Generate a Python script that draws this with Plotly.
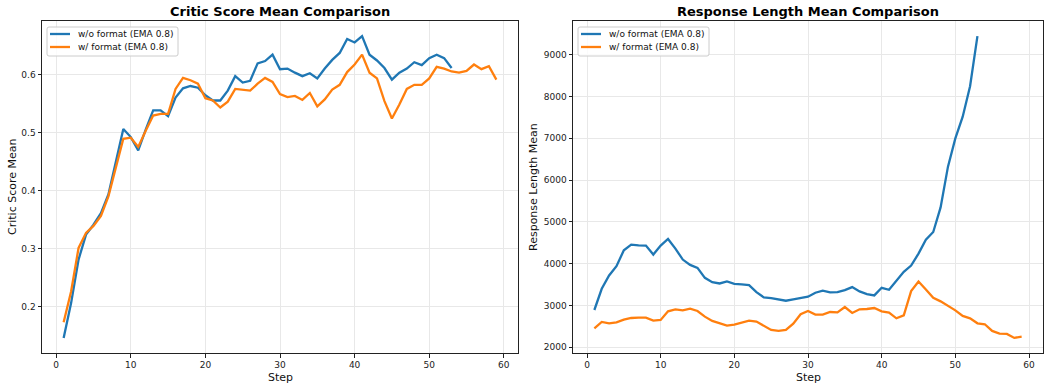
import plotly.graph_objects as go

steps_wo = list(range(1, 54))
steps_w = list(range(1, 60))

critic_wo = [0.146, 0.206, 0.281, 0.324, 0.341, 0.361, 0.393, 0.448, 0.506, 0.492,
             0.469, 0.505, 0.538, 0.538, 0.528, 0.560, 0.576, 0.580, 0.577, 0.564,
             0.555, 0.555, 0.572, 0.597, 0.586, 0.589, 0.619, 0.623, 0.634, 0.609,
             0.610, 0.603, 0.597, 0.602, 0.593, 0.610, 0.625, 0.637, 0.661, 0.655,
             0.666, 0.634, 0.624, 0.611, 0.591, 0.603, 0.610, 0.621, 0.616, 0.628,
             0.634, 0.628, 0.611]
critic_w = [0.173, 0.226, 0.301, 0.327, 0.339, 0.356, 0.390, 0.439, 0.489, 0.491,
            0.475, 0.503, 0.529, 0.532, 0.532, 0.575, 0.594, 0.590, 0.584, 0.559,
            0.555, 0.543, 0.553, 0.575, 0.574, 0.572, 0.584, 0.594, 0.587, 0.566,
            0.561, 0.563, 0.556, 0.568, 0.545, 0.557, 0.574, 0.582, 0.604, 0.617,
            0.634, 0.603, 0.593, 0.554, 0.524, 0.548, 0.575, 0.582, 0.582, 0.593,
            0.613, 0.610, 0.605, 0.603, 0.606, 0.617, 0.609, 0.614, 0.591]

length_wo = [2889, 3397, 3715, 3937, 4318, 4453, 4437, 4430, 4215, 4430,
             4588, 4358, 4096, 3969, 3897, 3659, 3556, 3524, 3572, 3516,
             3500, 3484, 3318, 3191, 3175, 3143, 3111, 3143, 3175, 3207,
             3302, 3350, 3310, 3318, 3365, 3437, 3334, 3270, 3238, 3421,
             3373, 3596, 3802, 3953, 4239, 4573, 4755, 5343, 6320, 6995,
             7514, 8244, 9444]
length_w = [2452, 2603, 2571, 2595, 2658, 2698, 2706, 2706, 2635, 2651,
            2857, 2905, 2881, 2921, 2865, 2730, 2627, 2571, 2516, 2539,
            2579, 2635, 2611, 2516, 2412, 2388, 2412, 2563, 2786, 2865,
            2778, 2778, 2841, 2833, 2960, 2817, 2905, 2913, 2936, 2857,
            2825, 2690, 2762, 3342, 3572, 3382, 3183, 3096, 2984, 2881,
            2746, 2690, 2571, 2548, 2388, 2325, 2317, 2221, 2253]

name_wo = "w/o format (EMA 0.8)"
name_w = "w/ format (EMA 0.8)"
titles = ["Critic Score Mean Comparison", "Response Length Mean Comparison"]
ylabels = ["Critic Score Mean", "Response Length Mean"]
xlabel = "Step"

BLUE = "#1f77b4"
ORANGE = "#ff7f0e"
W, H = 1047, 383
ML, MR, MT, MB = 42, 4, 21, 30
PW = W - ML - MR
PH = H - MT - MB


def px(x):
    return (x - ML) / PW


def py(y):
    return (H - MB - y) / PH


def padded(vals):
    lo, hi = min(vals), max(vals)
    m = (hi - lo) * 0.05
    return [lo - m, hi + m]


fig = go.Figure()
lw = 2.3
fig.add_trace(go.Scatter(x=steps_wo, y=critic_wo, mode="lines", name=name_wo,
                         line=dict(color=BLUE, width=lw), xaxis="x", yaxis="y"))
fig.add_trace(go.Scatter(x=steps_w, y=critic_w, mode="lines", name=name_w,
                         line=dict(color=ORANGE, width=lw), xaxis="x", yaxis="y"))
fig.add_trace(go.Scatter(x=steps_wo, y=length_wo, mode="lines", name=name_wo,
                         line=dict(color=BLUE, width=lw), xaxis="x2", yaxis="y2"))
fig.add_trace(go.Scatter(x=steps_w, y=length_w, mode="lines", name=name_w,
                         line=dict(color=ORANGE, width=lw), xaxis="x2", yaxis="y2"))

xr = padded(steps_wo + steps_w)
tickfont = dict(family="DejaVu Sans", size=9, color="#222")
common = dict(showline=True, linecolor="#222", linewidth=1, mirror=True,
              ticks="outside", ticklen=3.5, tickwidth=1, tickcolor="#222",
              showgrid=True, gridcolor="#e8e8e8", gridwidth=1, zeroline=False,
              tickfont=tickfont)

d1 = [px(42), px(518)]
d2 = [px(573), px(1043)]

fig.update_layout(
    width=W, height=H,
    margin=dict(l=ML, r=MR, t=MT, b=MB),
    paper_bgcolor="white", plot_bgcolor="white",
    font=dict(family="DejaVu Sans", color="black"),
    xaxis=dict(domain=d1, range=xr, tickvals=[0, 10, 20, 30, 40, 50, 60], anchor="y", **common),
    yaxis=dict(domain=[0, 1], range=padded(critic_wo + critic_w),
               tickvals=[0.2, 0.3, 0.4, 0.5, 0.6], tickformat=".1f", anchor="x", **common),
    xaxis2=dict(domain=d2, range=xr, tickvals=[0, 10, 20, 30, 40, 50, 60], anchor="y2", **common),
    yaxis2=dict(domain=[0, 1], range=padded(length_wo + length_w),
                tickvals=[2000, 3000, 4000, 5000, 6000, 7000, 8000, 9000], tickformat="d",
                anchor="x2", **common),
    showlegend=False,
)

ann = []
shapes = []
for i, (cx, ylx, lgx) in enumerate([(280, 12, 47), (808, 533, 578)]):
    ann.append(dict(text="<b>" + titles[i] + "</b>", x=px(cx), y=py(11), xref="paper", yref="paper",
                    showarrow=False, xanchor="center", yanchor="middle",
                    font=dict(family="DejaVu Sans", size=13, color="black")))
    ann.append(dict(text=xlabel, x=px(cx), y=py(377), xref="paper", yref="paper",
                    showarrow=False, xanchor="center", yanchor="middle",
                    font=dict(family="DejaVu Sans", size=11, color="#111")))
    ann.append(dict(text=ylabels[i], x=px(ylx), y=py(187), xref="paper", yref="paper",
                    showarrow=False, xanchor="center", yanchor="middle", textangle=-90,
                    font=dict(family="DejaVu Sans", size=11, color="#111")))
    # legend box
    x0, x1, y0, y1, r = lgx, lgx + 131, 27, 56, 2
    path = (f"M {px(x0 + r)} {py(y0)} L {px(x1 - r)} {py(y0)} Q {px(x1)} {py(y0)} {px(x1)} {py(y0 + r)} "
            f"L {px(x1)} {py(y1 - r)} Q {px(x1)} {py(y1)} {px(x1 - r)} {py(y1)} "
            f"L {px(x0 + r)} {py(y1)} Q {px(x0)} {py(y1)} {px(x0)} {py(y1 - r)} "
            f"L {px(x0)} {py(y0 + r)} Q {px(x0)} {py(y0)} {px(x0 + r)} {py(y0)} Z")
    shapes.append(dict(type="path", path=path, xref="paper", yref="paper",
                       fillcolor="rgba(255,255,255,0.8)", line=dict(color="#cccccc", width=1)))
    for name, color, yy in [(name_wo, BLUE, 34), (name_w, ORANGE, 47)]:
        shapes.append(dict(type="line", xref="paper", yref="paper",
                           x0=px(lgx + 3), x1=px(lgx + 23), y0=py(yy), y1=py(yy),
                           line=dict(color=color, width=lw)))
        ann.append(dict(text=name, x=px(lgx + 29), y=py(yy), xref="paper", yref="paper",
                        showarrow=False, xanchor="left", yanchor="middle",
                        font=dict(family="DejaVu Sans", size=9, color="#111")))
fig.update_layout(annotations=ann, shapes=shapes)

fig.write_html("out.html", config={"displayModeBar": False},
               post_script="document.body.style.margin='0px';")
